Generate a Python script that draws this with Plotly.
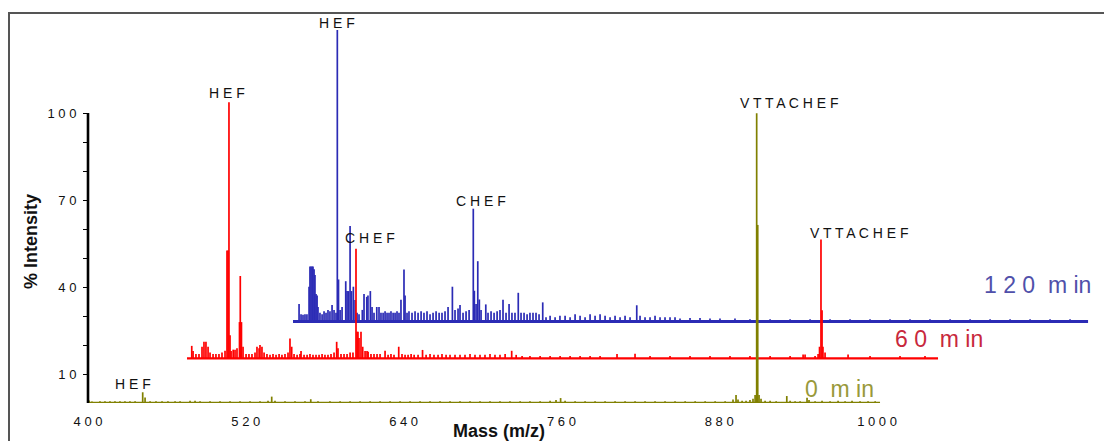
import plotly.graph_objects as go

# ------------------------------------------------------------------ data
# 0 min spectrum (olive) : m/z and % intensity of peaks
mz_0 = [400.8, 403.0, 409.1, 412.9, 416.7, 420.5, 424.3, 428.1, 431.9, 435.8,
        441.6, 443.4, 447.2, 451.7, 456.3, 460.8, 466.2, 470.0, 477.6, 481.4,
        485.2, 492.8, 500.4, 508.0, 515.6, 523.2, 530.8, 536.9, 539.7, 542.2,
        549.8, 557.4, 565.0, 569.4, 574.9, 584.0, 591.7, 599.3, 606.9, 614.5,
        622.1, 629.7, 637.3, 644.9, 652.5, 660.1, 667.7, 675.3, 682.9, 690.5,
        698.1, 705.7, 713.3, 720.9, 728.6, 736.1, 743.8, 751.4, 755.9, 759.4,
        762.8, 770.4, 778.0, 785.6, 793.2, 800.8, 808.4, 816.0, 823.6, 831.2,
        838.8, 846.4, 854.1, 861.7, 869.3, 876.9, 884.5, 890.5, 892.8, 894.3,
        897.4, 900.4, 903.4, 905.7, 907.3, 908.5, 909.3, 910.3, 911.8, 914.9,
        918.7, 923.3, 931.4, 933.9, 937.7, 941.5, 946.8, 948.3, 952.9, 958.2,
        964.3, 970.4, 975.7, 981.0, 987.1, 993.2, 998.6]
int_0 = [0.9, 0.5, 0.6, 0.6, 0.6, 0.6, 0.6, 0.6, 0.6, 0.6,
         3.7, 1.9, 0.6, 0.6, 0.6, 0.6, 0.6, 0.6, 0.8, 0.8,
         0.6, 0.6, 0.6, 0.6, 0.6, 0.6, 0.6, 0.8, 2.2, 0.8,
         0.6, 0.6, 0.6, 1.3, 0.6, 0.6, 0.6, 0.6, 0.6, 0.6,
         0.6, 0.6, 0.6, 0.6, 0.6, 0.6, 0.6, 0.6, 0.6, 0.6,
         0.6, 0.6, 0.6, 0.6, 0.6, 0.6, 0.6, 0.8, 1.0, 1.7,
         0.8, 0.6, 0.6, 0.6, 0.6, 0.6, 0.6, 0.6, 0.6, 0.6,
         0.6, 0.6, 0.6, 0.6, 0.6, 0.6, 0.6, 1.2, 2.8, 1.2,
         0.8, 0.8, 1.0, 1.5, 2.8, 99.9, 61.4, 2.8, 1.5, 0.8,
         0.8, 0.6, 2.4, 0.8, 0.6, 0.6, 1.8, 1.0, 0.6, 0.8,
         0.6, 0.8, 0.6, 0.8, 0.6, 0.6, 0.6]

# 60 min spectrum (red)
mz_60 = [478.9, 479.9, 482.1, 484.4, 486.7, 488.2, 489.7, 491.3, 492.8, 495.1,
         497.3, 499.6, 501.9, 504.2, 505.7, 506.5, 507.2, 508.0, 508.8, 510.4,
         511.8, 513.3, 515.2, 515.8, 516.7, 517.9, 520.2, 522.4, 524.7, 527.0,
         528.5, 530.1, 530.8, 532.3, 533.9, 536.1, 538.4, 540.7, 543.0, 545.3,
         547.5, 549.8, 552.1, 553.6, 554.9, 556.7, 559.0, 561.2, 562.0, 564.3,
         566.6, 568.8, 571.1, 573.4, 575.7, 578.0, 580.2, 582.5, 584.8, 587.1,
         589.1, 590.1, 592.4, 594.7, 597.0, 599.3, 601.5, 603.8, 604.6, 605.3,
         606.1, 607.6, 608.9, 610.7, 612.2, 613.0, 615.2, 617.5, 619.8, 622.1,
         625.9, 628.2, 630.4, 632.7, 636.3, 638.8, 641.1, 643.4, 645.7, 648.0,
         651.0, 654.4, 657.1, 660.1, 663.1, 666.2, 669.2, 672.3, 675.3, 679.1,
         682.9, 686.7, 690.5, 694.3, 698.1, 701.9, 705.7, 709.5, 713.3, 717.2,
         722.2, 725.6, 730.1, 736.1, 743.8, 751.4, 759.0, 766.6, 774.2, 781.8,
         789.4, 802.3, 816.0, 827.4, 842.6, 857.8, 873.0, 888.2, 903.4, 918.7,
         933.9, 943.8, 945.3, 952.9, 955.2, 956.3, 957.4, 958.2, 958.9, 960.5,
         978.0, 994.7, 1017.5, 1036.5]
int_60 = [4.3, 2.5, 1.5, 1.5, 4.0, 5.7, 5.7, 4.0, 2.0, 1.5,
          1.5, 1.5, 2.0, 2.6, 37.2, 37.2, 88.3, 8.0, 2.5, 3.0,
          3.0, 3.5, 12.5, 28.4, 12.5, 4.0, 1.5, 1.5, 1.5, 2.0,
          4.0, 3.5, 4.6, 4.0, 2.0, 1.5, 1.2, 1.5, 1.2, 1.5,
          1.2, 1.5, 2.0, 6.8, 4.0, 1.5, 1.2, 1.5, 2.5, 1.2,
          1.2, 1.5, 1.2, 1.2, 1.2, 1.5, 1.2, 1.2, 1.5, 2.0,
          5.7, 3.5, 1.5, 1.5, 1.5, 2.0, 2.0, 37.8, 9.2, 9.2,
          7.0, 9.2, 4.0, 2.5, 2.5, 2.3, 1.5, 1.5, 1.5, 1.5,
          2.6, 1.2, 1.5, 1.2, 4.0, 1.5, 1.2, 1.2, 1.5, 1.2,
          1.2, 2.9, 1.2, 1.5, 1.2, 1.2, 1.5, 1.2, 1.2, 1.2,
          1.2, 1.2, 1.5, 1.2, 1.2, 1.2, 1.5, 1.2, 1.2, 1.5,
          2.6, 1.2, 0.8, 0.8, 0.8, 0.8, 0.8, 0.8, 0.8, 0.8,
          0.8, 1.5, 1.6, 0.8, 0.8, 0.8, 0.8, 0.8, 0.8, 0.8,
          0.8, 1.3, 1.3, 0.8, 1.5, 4.0, 41.0, 16.6, 4.0, 2.0,
          1.3, 0.8, 0.8, 0.8]

# 120 min spectrum (blue)
mz_120 = [560.5, 562.0, 563.5, 565.0, 566.5, 568.1, 568.8, 569.6, 570.4, 571.1,
          571.9, 572.6, 573.4, 574.2, 574.9, 576.4, 578.0, 579.5, 581.0, 582.5,
          584.0, 585.6, 587.1, 588.6, 589.6, 590.5, 591.7, 593.2, 596.0, 597.0,
          598.1, 599.3, 600.4, 601.8, 603.1, 604.6, 606.1, 608.6, 609.9, 612.0,
          612.9, 614.7, 616.0, 617.5, 619.6, 621.3, 622.8, 624.4, 625.9, 627.4,
          628.9, 630.4, 632.0, 633.5, 635.0, 636.5, 638.0, 640.3, 641.1, 642.6,
          644.1, 646.4, 648.7, 651.0, 653.3, 655.5, 657.8, 660.1, 662.4, 664.7,
          667.0, 669.2, 671.5, 673.8, 677.1, 679.1, 681.4, 682.9, 685.2, 687.5,
          689.8, 693.0, 693.8, 695.1, 696.4, 697.6, 698.9, 702.5, 704.2, 706.5,
          708.8, 711.1, 713.3, 715.6, 717.9, 720.2, 722.4, 724.7, 727.2, 729.3,
          731.6, 733.9, 736.1, 738.4, 740.7, 743.0, 745.8, 748.3, 751.4, 755.2,
          758.9, 762.8, 766.6, 770.4, 774.2, 778.0, 781.8, 785.6, 789.4, 793.2,
          797.0, 800.8, 804.6, 808.4, 812.2, 817.3, 819.8, 823.6, 827.4, 831.2,
          835.0, 838.8, 842.6, 846.4, 850.2, 857.8, 865.4, 873.0, 880.6, 892.0,
          903.4, 918.7, 933.9, 949.1, 964.3, 979.5, 994.7, 1009.9, 1025.1, 1040.3,
          1055.6, 1070.8, 1086.0, 1101.2, 1116.4, 1131.6, 1146.8]
int_120 = [6.0, 2.5, 2.3, 2.5, 2.5, 12.0, 19.0, 19.0, 19.0, 19.0,
           18.0, 16.0, 9.5, 9.0, 5.0, 3.0, 2.5, 3.5, 3.0, 4.0,
           3.5, 5.7, 4.0, 3.0, 100.5, 14.5, 4.0, 5.0, 13.9, 10.5,
           10.5, 32.9, 10.5, 12.0, 7.4, 3.0, 2.5, 4.0, 9.5, 8.5,
           9.0, 10.5, 5.0, 3.0, 5.0, 5.0, 3.0, 3.0, 3.5, 3.0,
           3.0, 3.5, 3.0, 3.0, 3.5, 3.0, 7.5, 17.9, 9.0, 3.0,
           3.5, 3.0, 3.5, 3.0, 3.5, 3.0, 3.5, 2.5, 3.0, 3.5,
           3.0, 3.0, 3.5, 5.0, 12.0, 4.0, 4.5, 5.7, 3.0, 3.5,
           4.0, 38.9, 10.6, 6.0, 20.8, 7.6, 4.0, 5.9, 3.0, 3.5,
           3.0, 3.5, 4.0, 7.5, 3.0, 6.0, 3.0, 3.0, 9.9, 3.0,
           3.0, 2.5, 3.0, 3.0, 3.0, 2.5, 6.6, 1.5, 2.0, 1.5,
           2.0, 2.0, 1.5, 2.5, 2.0, 1.5, 2.5, 2.0, 2.5, 2.0,
           1.5, 2.0, 1.5, 2.0, 1.5, 5.6, 2.0, 1.5, 1.5, 2.0,
           1.5, 1.5, 1.5, 1.5, 1.0, 1.2, 1.2, 1.0, 1.0, 1.0,
           0.8, 0.8, 0.8, 0.8, 0.8, 0.8, 0.8, 0.8, 0.8, 0.8,
           0.8, 0.8, 0.8, 0.8, 0.8, 0.8, 0.8]

# m/z span of each trace's baseline
span_0 = [400.0, 1002.3]
span_60 = [475.3, 1046.4]
span_120 = [555.9, 1160.5]

# peak labels: (series, m/z of labelled peak, text)
label_series = ["0", "60", "60", "120", "120", "0", "60"]
label_mz = [441.6, 507.2, 603.8, 589.6, 693.0, 908.5, 957.4]
label_text = ["H E F", "H E F", "C H E F", "H E F", "C H E F",
              "V T T A C H E F", "V T T A C H E F"]

series_names = ["0  m in", "6 0  m in", "1 2 0  m in"]

x_tick_vals = [400, 520, 640, 760, 880, 1000]
x_tick_text = ["4 0 0", "5 2 0", "6 4 0", "7 6 0", "8 8 0", "1 0 0 0"]
y_tick_vals = [10, 20, 30, 40, 50, 60, 70, 80, 90, 100]
y_tick_text = ["1 0", "", "", "4 0", "", "", "7 0", "", "", "1 0 0"]

# ------------------------------------------------------------------ layout constants
PAGE = 8                      # default body margin of the html page
W, H = 1112 - PAGE, 441 - PAGE
ML, MR, MT, MB = 80, 12, 5, 38
PW, PH = W - ML - MR, H - MT - MB
PX_PER_MZ = 1.315
PX_PER_INT = 2.9
X_RANGE = [400, 400 + PW / PX_PER_MZ]
Y_RANGE = [0, PH / PX_PER_INT]

# vertical stacking of the three traces (baseline shifts)
offsets = {"0": 0.0, "60": 15.4, "120": 28.1}
colors = {"0": "#808000", "60": "#FF0000", "120": "#2B2BB5"}
text_colors = {"0": "#99993A", "60": "#C8283C", "120": "#5050AA"}
data = {"0": (mz_0, int_0, span_0),
        "60": (mz_60, int_60, span_60),
        "120": (mz_120, int_120, span_120)}

FONT = "Arial, 'Liberation Sans', sans-serif"


def px_to_paper_x(px):
    """page pixel -> paper coordinate"""
    return (px - PAGE - ML) / PW


def px_to_paper_y(py):
    return (H - MB - (py - PAGE)) / PH


fig = go.Figure()

for key in ["120", "60", "0"]:
    mz, inten, span = data[key]
    off = offsets[key]
    xs, ys = [], []
    for m, v in zip(mz, inten):
        xs += [m, m, None]
        ys += [off, off + v, None]
    fig.add_trace(go.Scatter(x=xs, y=ys, mode="lines",
                             line=dict(color=colors[key], width=1.7),
                             hoverinfo="skip", showlegend=False))
    fig.add_trace(go.Scatter(x=span, y=[off, off], mode="lines",
                             line=dict(color=colors[key],
                                       width=2.8 if key == "120" else 2.3),
                             hoverinfo="skip", showlegend=False))

annotations = []
label_shift = [(-10, 8), (-2, 9), (14, 11), (0, 7), (8, 8), (33, 10), (39, 6)]
for s, m, t, (dx, dy) in zip(label_series, label_mz, label_text, label_shift):
    mz, inten, _ = data[s]
    v = inten[mz.index(m)] + offsets[s]
    annotations.append(dict(x=m, y=v, xref="x", yref="y", text=t,
                            showarrow=False, xanchor="center", yanchor="middle",
                            xshift=dx, yshift=dy,
                            font=dict(family=FONT, size=14, color="#111111")))

# series names
name_pos = [(839, 389), (939, 339), (1037, 285)]
for name, key, (px, py) in zip(series_names, ["0", "60", "120"], name_pos):
    annotations.append(dict(x=px_to_paper_x(px), y=px_to_paper_y(py),
                            xref="paper", yref="paper", text=name,
                            showarrow=False, xanchor="center", yanchor="middle",
                            font=dict(family=FONT, size=23, color=text_colors[key])))

# axis titles
annotations.append(dict(x=px_to_paper_x(31), y=px_to_paper_y(242),
                        xref="paper", yref="paper", text="<b>% Intensity</b>",
                        textangle=-90, showarrow=False,
                        xanchor="center", yanchor="middle",
                        font=dict(family=FONT, size=18, color="#111111")))
annotations.append(dict(x=px_to_paper_x(499), y=px_to_paper_y(419),
                        xref="paper", yref="paper", text="<b>Mass (m/z)</b>",
                        showarrow=False, xanchor="center", yanchor="top",
                        font=dict(family=FONT, size=18, color="#111111")))

shapes = [
    # outer frame
    dict(type="rect", xref="paper", yref="paper",
         x0=px_to_paper_x(9), x1=px_to_paper_x(1140),
         y0=px_to_paper_y(480), y1=px_to_paper_y(13),
         line=dict(color="#555555", width=2), fillcolor="rgba(0,0,0,0)",
         layer="below"),
    # y axis line (0 .. 100 %)
    dict(type="line", xref="paper", yref="y", x0=0, x1=0, y0=0, y1=100,
         line=dict(color="#000000", width=2.6)),
]

fig.update_layout(
    width=W, height=H, autosize=False,
    margin=dict(l=ML, r=MR, t=MT, b=MB, pad=0),
    plot_bgcolor="white", paper_bgcolor="white",
    showlegend=False,
    annotations=annotations, shapes=shapes,
    font=dict(family=FONT, color="#111111"),
    xaxis=dict(range=X_RANGE, showgrid=False, zeroline=False, showline=False,
               tickvals=x_tick_vals, ticktext=x_tick_text, ticks="",
               ticklabelstandoff=9, automargin=False,
               tickfont=dict(family=FONT, size=13, color="#111111")),
    yaxis=dict(range=Y_RANGE, showgrid=False, zeroline=False, showline=False,
               tickvals=y_tick_vals, ticktext=y_tick_text, ticks="outside",
               ticklen=4, tickwidth=1.2, tickcolor="#000000",
               ticklabelstandoff=4, automargin=False,
               tickfont=dict(family=FONT, size=13, color="#111111")),
)

fig.write_html("out.html")
